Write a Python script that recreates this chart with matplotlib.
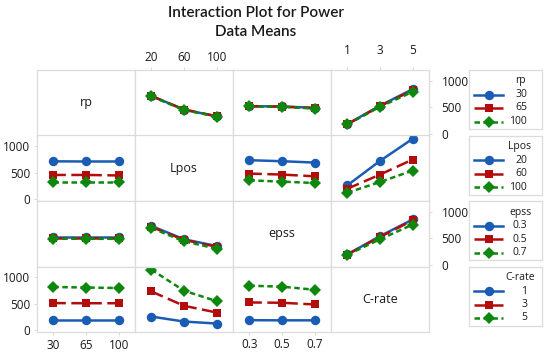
import matplotlib
matplotlib.use("Agg")
import matplotlib.pyplot as plt

plt.rcParams['font.family'] = ['Open Sans', 'DejaVu Sans']

# ---------------- data ----------------
factors = ["rp", "Lpos", "epss", "C-rate"]
rp_levels = ["30", "65", "100"]
lpos_levels = ["20", "60", "100"]
epss_levels = ["0.3", "0.5", "0.7"]
crate_levels = ["1", "3", "5"]

# means[row factor lines][x = column factor]
rp_by_lpos = [[715, 455, 330], [712, 458, 332], [705, 450, 325]]
rp_by_epss = [[520, 515, 490], [518, 512, 485], [515, 510, 475]]
rp_by_crate = [[185, 530, 840], [180, 522, 820], [178, 510, 790]]

lpos_by_rp = [[715, 712, 712], [459, 459, 450], [334, 334, 334]]
lpos_by_epss = [[736, 717, 692], [485, 466, 434], [358, 334, 308]]
lpos_by_crate = [[264, 723, 1138], [200, 466, 749], [126, 327, 541]]

epss_by_rp = [[520, 520, 520], [513, 513, 513], [495, 490, 490]]
epss_by_lpos = [[732, 481, 355], [715, 470, 340], [694, 443, 305]]
epss_by_crate = [[198, 540, 853], [195, 525, 836], [190, 481, 758]]

crate_by_rp = [[192, 192, 192], [513, 510, 510], [815, 805, 796]]
crate_by_lpos = [[260, 166, 129], [732, 462, 336], [1142, 745, 550]]
crate_by_epss = [[192, 189, 189], [525, 519, 487], [840, 821, 764]]

yticks = [0, 500, 1000]

levels = [rp_levels, lpos_levels, epss_levels, crate_levels]
panels = {
    (0, 1): rp_by_lpos, (0, 2): rp_by_epss, (0, 3): rp_by_crate,
    (1, 0): lpos_by_rp, (1, 2): lpos_by_epss, (1, 3): lpos_by_crate,
    (2, 0): epss_by_rp, (2, 1): epss_by_lpos, (2, 3): epss_by_crate,
    (3, 0): crate_by_rp, (3, 1): crate_by_lpos, (3, 2): crate_by_epss,
}

# ---------------- style ----------------
colors = ["#1a5cb4", "#b30c0c", "#0d870d"]
markers = ["o", "s", "D"]
styles = ["-", (0, (5, 2.2)), (0, (2.2, 1.4))]
msizes = [6.8, 5.8, 6.3]
grid_col = "#dcdcdc"
txt_col = "#1a1a1a"

W, H = 550, 353
fig = plt.figure(figsize=(W / 100, H / 100), dpi=100)

fig.text(256 / W, 1 - 13 / H, "Interaction Plot for Power", ha="center", va="center",
         fontsize=11, fontweight=600, color=txt_col, family=["Lato", "DejaVu Sans"])
fig.text(256 / W, 1 - 32 / H, "Data Means", ha="center", va="center",
         fontsize=11, fontweight=600, color=txt_col, family=["Lato", "DejaVu Sans"])

x0, cw = 37, 98
y0, rh = 70, 65.5
for i in range(4):
    for j in range(4):
        left = x0 + cw * j
        top = y0 + rh * i
        ax = fig.add_axes([left / W, 1 - (top + rh) / H, cw / W, rh / H])
        ax.set_xlim(-0.5, 2.5)
        ax.set_ylim(-30, 1200)
        for s in ax.spines.values():
            s.set_color(grid_col)
            s.set_linewidth(0.9)
        ax.tick_params(length=2, color=grid_col, labelsize=8.5, labelcolor=txt_col)
        ax.set_xticks(range(3))
        ax.set_yticks(yticks)
        ax.tick_params(bottom=False, labelbottom=False, left=False, labelleft=False)
        if i == j:
            ax.text(0.5, 0.5, factors[i], transform=ax.transAxes, ha="center",
                    va="center", fontsize=9, color=txt_col)
            ax.set_xticks([])
            ax.set_yticks([])
        else:
            data = panels[(i, j)]
            for k in range(3):
                ax.plot(range(3), data[k], color=colors[k], linestyle=styles[k],
                        marker=markers[k], markersize=msizes[k], linewidth=1.8,
                        markeredgewidth=0)
        # axis labels on the outer frame
        if i == 0 and j in (1, 3):
            ax.set_xticks(range(3))
            ax.set_xticklabels(levels[j])
            ax.tick_params(top=True, labeltop=True, pad=2)
        if i == 3 and j in (0, 2):
            ax.set_xticks(range(3))
            ax.set_xticklabels(levels[j])
            ax.tick_params(bottom=True, labelbottom=True, pad=2)
        if j == 0 and i in (1, 3):
            ax.set_yticks(yticks)
            ax.tick_params(left=True, labelleft=True, pad=3)
        if j == 3 and i in (0, 2):
            ax.set_yticks(yticks)
            ax.tick_params(right=True, labelright=True, pad=7)

# ---------------- legends ----------------
lx, lw = 469, 73
for i in range(4):
    top = y0 + rh * i
    lax = fig.add_axes([lx / W, 1 - (top + 59) / H, lw / W, 59 / H])
    lax.set_xlim(0, lw)
    lax.set_ylim(59, 0)
    lax.set_xticks([])
    lax.set_yticks([])
    for s in lax.spines.values():
        s.set_color(grid_col)
        s.set_linewidth(0.9)
    lax.text(51, 11, factors[i], ha="center", va="center", fontsize=7.5, color=txt_col)
    for k in range(3):
        yy = 24.5 + 13.5 * k
        lax.plot([5, 34], [yy, yy], color=colors[k], linestyle=styles[k], linewidth=1.8)
        lax.plot([20], [yy], color=colors[k], marker=markers[k], markersize=msizes[k],
                 markeredgewidth=0, linestyle="none")
        lax.text(58, yy, levels[i][k], ha="right", va="center", fontsize=7.5, color=txt_col)

fig.savefig("out.png", dpi=100)
